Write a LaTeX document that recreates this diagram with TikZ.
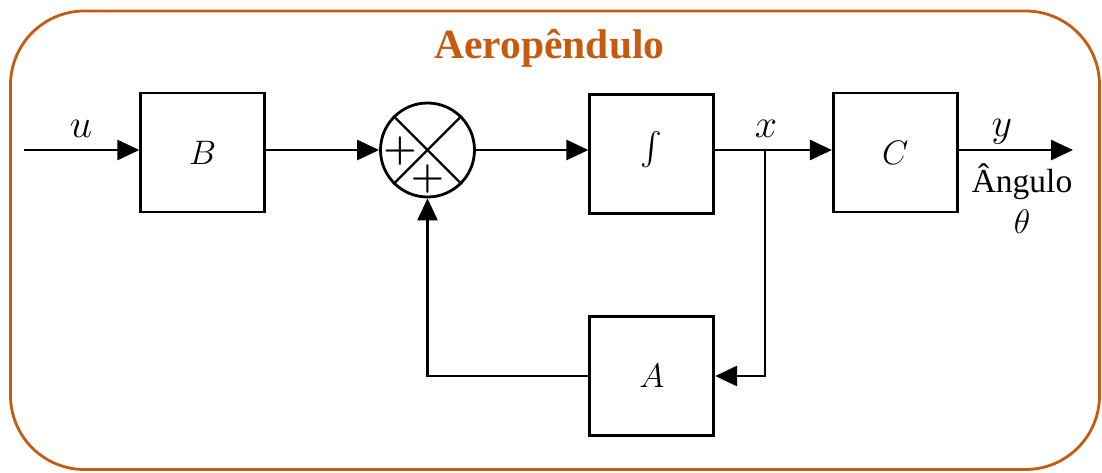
\RequirePackage{fix-cm}
\documentclass[tikz,border=0pt]{standalone}
\usepackage{graphicx}
\usepackage{fontspec}
\setmainfont{Liberation Serif}
\usetikzlibrary{arrows.meta}
\definecolor{aero}{RGB}{197,90,17}
\begin{document}
\begin{tikzpicture}[x=1pt,y=-1pt,
  blk/.style={draw, line width=2.8pt, minimum width=124pt, minimum height=119pt, inner sep=0pt, font=\fontsize{34}{40}\selectfont},
  sig/.style={line width=2.8pt, -{Triangle[length=22pt,width=20pt]}},
  mlab/.style={font=\fontsize{40}{48}\selectfont, anchor=base, inner sep=0pt},
  plus/.style={font=\boldmath\fontsize{38}{42}\selectfont, inner sep=0pt},
  frame/.style={draw=aero, line width=2.8pt, rounded corners=74pt}]
\useasboundingbox (0,0) rectangle (1102,472);
\draw[frame] (10.5,11) rectangle (1099.5,469.5);
\node[font=\bfseries\fontsize{41.5}{49}\selectfont, text=aero, anchor=base, inner sep=0pt] (T) at (549.5,58) {Aeropêndulo};
% blocks
\node[blk] (B) at (202.75,152.5) {$B$};
\node[draw, circle, line width=2.8pt, minimum size=94pt, inner sep=0pt] (S) at (427.5,150) {};
\node[blk] (I) at (651.75,154) {\resizebox{!}{46pt}{$\int$}};
\node[blk] (C) at (895.3,152.5) {$C$};
\node[blk] (A) at (651.75,376) {$A$};
% summing junction
\draw[line width=2.4pt] (S.north west) -- (S.south east);
\draw[line width=2.4pt] (S.north east) -- (S.south west);
\node[plus] (p1) at (400,151) {$+$};
\node[plus] (p2) at (427.5,179) {$+$};
% coordinates
\coordinate (in) at (24,150);
\coordinate (J) at (765,150);
\coordinate (out) at (1073,150);
% signals
\draw[sig] (in) -- (in -| B.west);
\draw[sig] (B.east |- S.west) -- (S.west);
\draw[sig] (S.east) -- (S.east -| I.west);
\draw[sig] (I.east |- S.east) -- (S.east -| C.west);
\draw[sig] (C.east |- S.east) -- (out);
\draw[sig] (J) |- (A.east);
\draw[sig] (A.west) -| (S.south);
% labels
\node[mlab] (lu) at (81,137) {$u$};
\node[mlab] (lx) at (766,137) {$x$};
\node[mlab] (ly) at (1002,136) {$y$};
\node[anchor=base, inner sep=0pt, font=\fontsize{33.5}{38}\selectfont] (ang) at (1022,192) {Ângulo};
\node[anchor=base, inner sep=0pt, font=\fontsize{34}{40}\selectfont] (th) at (1022,233) {$\theta$};
\end{tikzpicture}
\end{document}
